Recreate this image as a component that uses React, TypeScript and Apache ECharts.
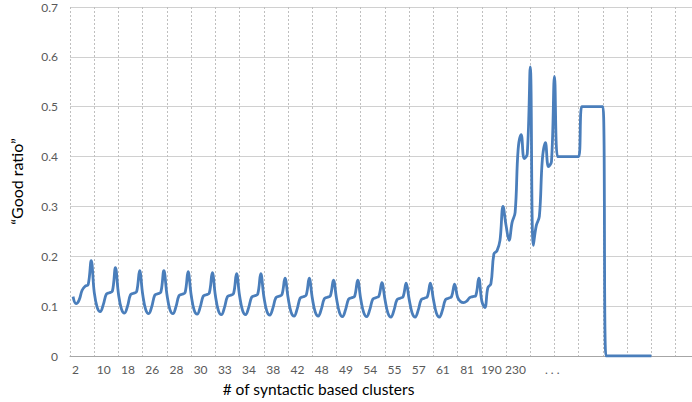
import React, { useEffect, useRef } from 'react';
import * as echarts from 'echarts';

// Category labels shown under the x axis (one per group of points)
const tickLabels = ['2', '10', '18', '26', '28', '30', '33', '34', '38', '42', '48', '49', '54', '55', '57', '61', '81', '190', '230', '. . .'];

// Number of plotted points per labelled group
const pointsPerGroup = 8;

// "Good ratio" values, grouped by label interval
const periodicSegment = [
  0.119, 0.105, 0.112, 0.132, 0.140, 0.143, 0.191, 0.128,
  0.097, 0.089, 0.103, 0.124, 0.127, 0.130, 0.177, 0.125,
  0.094, 0.086, 0.100, 0.123, 0.126, 0.129, 0.171, 0.124,
  0.093, 0.085, 0.099, 0.122, 0.125, 0.128, 0.171, 0.124,
  0.093, 0.085, 0.099, 0.121, 0.124, 0.127, 0.169, 0.123,
  0.092, 0.084, 0.098, 0.120, 0.123, 0.126, 0.167, 0.122,
  0.091, 0.083, 0.097, 0.119, 0.122, 0.125, 0.165, 0.121,
  0.091, 0.083, 0.097, 0.118, 0.121, 0.124, 0.165, 0.120,
  0.090, 0.082, 0.096, 0.117, 0.120, 0.123, 0.156, 0.118,
  0.088, 0.080, 0.094, 0.116, 0.119, 0.122, 0.156, 0.117,
  0.088, 0.080, 0.094, 0.115, 0.118, 0.121, 0.152, 0.116,
  0.087, 0.079, 0.093, 0.114, 0.117, 0.120, 0.152, 0.115,
  0.087, 0.079, 0.093, 0.114, 0.117, 0.120, 0.147, 0.114,
  0.086, 0.078, 0.092, 0.113, 0.116, 0.119, 0.146, 0.114,
  0.086, 0.078, 0.092, 0.113, 0.116, 0.119, 0.146, 0.114,
  0.086, 0.078, 0.092, 0.113, 0.116, 0.119, 0.144, 0.118,
  0.109, 0.107, 0.110, 0.117, 0.119, 0.121, 0.156, 0.110,
];

const risingSegment = [
  0.097, 0.137, 0.145, 0.205, 0.211, 0.232, 0.300, 0.262,
  0.232, 0.268, 0.288, 0.415, 0.444, 0.396, 0.405, 0.580,
  0.222, 0.262, 0.280, 0.395, 0.428, 0.380, 0.390, 0.561,
];

const tailSegment = [
  0.400, 0.400, 0.400, 0.400, 0.400, 0.400, 0.400, 0.400,
  0.500, 0.500, 0.500, 0.500, 0.500, 0.500, 0.500, 0.500,
  0, 0, 0, 0, 0, 0, 0, 0,
  0, 0, 0, 0, 0, 0, 0, 0,
];

const goodRatio = [...periodicSegment, ...risingSegment, ...tailSegment];

const FONT = 'Lato, "Open Sans", sans-serif';

export default function App() {
  const ref = useRef<HTMLDivElement>(null);

  useEffect(() => {
    if (!ref.current) return;
    const chart = echarts.init(ref.current, null, { renderer: 'svg' });
    const data = goodRatio.map((v, i) => [(i + 1) / pointsPerGroup, v]);
    const labelStyle = { fontFamily: FONT, fontSize: 12, color: '#595959' };

    chart.setOption({
      animation: false,
      backgroundColor: '#ffffff',
      grid: { left: 61.5, right: 5, top: 7, bottom: 44 },
      xAxis: {
        type: 'value',
        min: 0,
        max: 25.8,
        interval: 1,
        axisLine: { show: true, onZero: false, lineStyle: { color: '#a6a6a6', width: 1 } },
        axisTick: { show: false },
        splitLine: { show: true, lineStyle: { color: '#bfbfbf', width: 1, type: [2, 2] } },
        axisLabel: {
          margin: 7,
          ...labelStyle,
          showMinLabel: true,
          showMaxLabel: true,
          formatter: (v: number) => {
            const i = Math.round(v);
            if (Math.abs(v - i) > 1e-6) return '';
            const t = tickLabels[i];
            if (!t) return '';
            if (i === 0) return `{f|${t}}`;
            if (i === tickLabels.length - 1) return `{d|${t}}`;
            return `{t|${t}}`;
          },
          rich: {
            f: { padding: [0, 0, 0, 11], ...labelStyle },
            t: { padding: [0, 0, 0, 19], ...labelStyle },
            d: { padding: [0, 0, 0, 44], ...labelStyle },
          },
        },
        name: '# of syntactic based clusters',
        nameLocation: 'middle',
        nameGap: 25,
        nameTextStyle: { fontFamily: FONT, fontSize: 15.5, color: '#000000', padding: [0, 128, 0, 0] },
      },
      yAxis: {
        type: 'value',
        min: 0,
        max: 0.7,
        interval: 0.1,
        axisLine: { show: false },
        axisTick: { show: false },
        splitLine: { show: true, lineStyle: { color: '#d0d0d0', width: 1 } },
        axisLabel: { margin: 12, ...labelStyle },
        name: '\u201CGood ratio\u201D',
        nameLocation: 'middle',
        nameGap: 46,
        nameRotate: 90,
        nameTextStyle: { fontFamily: FONT, fontSize: 16, color: '#000000' },
      },
      series: [
        {
          type: 'line',
          data,
          smooth: 0.4,
          symbol: 'none',
          showSymbol: false,
          lineStyle: { color: '#4a7ebb', width: 2.8 },
        },
      ],
    });

    return () => chart.dispose();
  }, []);

  return (
    <div style={{ position: 'fixed', left: 0, top: 0, width: 692, height: 402, overflow: 'hidden', background: '#fff' }}>
      <div ref={ref} style={{ width: 700, height: 402 }} />
    </div>
  );
}
